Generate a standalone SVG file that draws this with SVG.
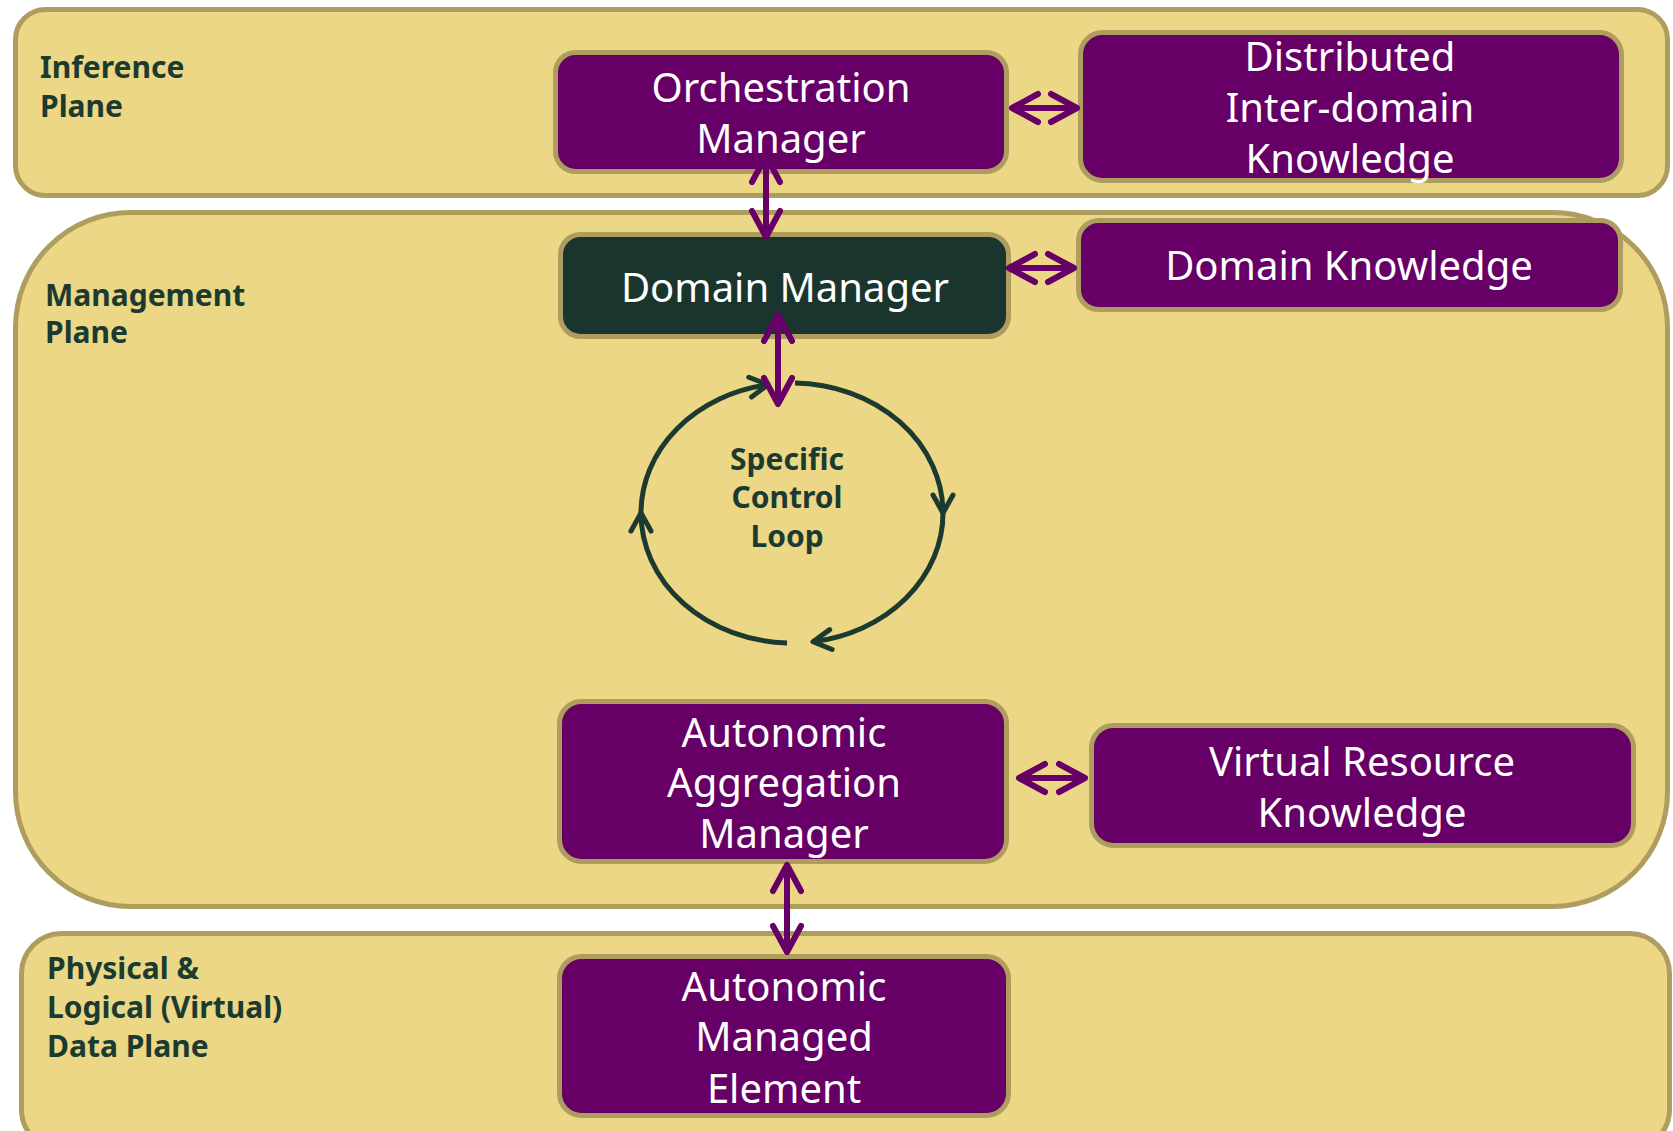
<svg xmlns="http://www.w3.org/2000/svg" width="1673" height="1131" viewBox="0 0 1673 1131">
  <defs>
    <style>
      .plane { fill: #EBD785; stroke: #AE9D5E; stroke-width: 5; }
      .box { fill: #660066; stroke: #AE9D5E; stroke-width: 5; }
      .box.dark { fill: #1A342E; }
      .boxText { font-family: "Noto Sans", "DejaVu Sans", sans-serif; font-size: 40px; fill: #FFFFFF; text-anchor: middle; }
      .planeLabel { font-family: "Noto Sans", "DejaVu Sans", sans-serif; font-size: 30px; font-weight: bold; fill: #1C3B30; }
      .loopText { font-family: "Noto Sans", "DejaVu Sans", sans-serif; font-size: 30px; font-weight: bold; fill: #1C3B30; text-anchor: middle; }
      .link { stroke: #660066; stroke-width: 6; fill: none; }
      .loop { stroke: #1C3A2F; stroke-width: 5; fill: none; }
    </style>
    <marker id="purpleHead" markerUnits="userSpaceOnUse" markerWidth="40" markerHeight="40" refX="0" refY="0" viewBox="-30 -20 40 40" orient="auto-start-reverse" overflow="visible">
      <path d="M -26 -14 L 0 0 L -26 14" fill="none" stroke="#660066" stroke-width="6" stroke-linecap="round" stroke-linejoin="round"/>
    </marker>
    <marker id="loopHead" markerUnits="userSpaceOnUse" markerWidth="30" markerHeight="30" refX="0" refY="0" viewBox="-25 -15 30 30" orient="auto" overflow="visible">
      <path d="M -18 -10 L 0 0 L -18 10" fill="none" stroke="#1C3A2F" stroke-width="5" stroke-linecap="round" stroke-linejoin="round"/>
    </marker>
  </defs>

  <rect width="1673" height="1131" fill="#FFFFFF"/>

  <!-- Planes -->
  <g id="inference-plane">
    <rect class="plane" x="15.5" y="9.5" width="1652" height="186" rx="30"/>
    <text class="planeLabel" x="40" y="78">Inference</text>
    <text class="planeLabel" x="40" y="117">Plane</text>
  </g>
  <g id="management-plane">
    <rect class="plane" x="15.5" y="212.5" width="1652" height="694" rx="115"/>
    <text class="planeLabel" x="45" y="306">Management</text>
    <text class="planeLabel" x="45" y="343">Plane</text>
  </g>
  <g id="data-plane">
    <rect class="plane" x="21.5" y="933.5" width="1648" height="216" rx="40"/>
    <text class="planeLabel" x="47" y="979">Physical &amp;</text>
    <text class="planeLabel" x="47" y="1018">Logical (Virtual)</text>
    <text class="planeLabel" x="47" y="1057">Data Plane</text>
  </g>

  <!-- Nodes -->
  <g id="orchestration-manager">
    <rect class="box" x="555.5" y="52.5" width="451" height="119" rx="20"/>
    <text class="boxText" x="781" y="102">Orchestration</text>
    <text class="boxText" x="781" y="153">Manager</text>
  </g>
  <g id="distributed-knowledge">
    <rect class="box" x="1080.5" y="32.5" width="541" height="148" rx="22"/>
    <text class="boxText" x="1350" y="71">Distributed</text>
    <text class="boxText" x="1350" y="122">Inter-domain</text>
    <text class="boxText" x="1350" y="173">Knowledge</text>
  </g>
  <g id="domain-manager">
    <rect class="box dark" x="560.5" y="234.5" width="448" height="102" rx="20"/>
    <text class="boxText" x="785" y="302">Domain Manager</text>
  </g>
  <g id="domain-knowledge">
    <rect class="box" x="1078.5" y="220.5" width="542" height="89" rx="20"/>
    <text class="boxText" x="1349" y="280">Domain Knowledge</text>
  </g>
  <g id="aggregation-manager">
    <rect class="box" x="559.5" y="701.5" width="447" height="160" rx="22"/>
    <text class="boxText" x="784" y="747">Autonomic</text>
    <text class="boxText" x="784" y="797">Aggregation</text>
    <text class="boxText" x="784" y="848">Manager</text>
  </g>
  <g id="virtual-resource-knowledge">
    <rect class="box" x="1091.5" y="725.5" width="542" height="120" rx="22"/>
    <text class="boxText" x="1362" y="776">Virtual Resource</text>
    <text class="boxText" x="1362" y="827">Knowledge</text>
  </g>
  <g id="managed-element">
    <rect class="box" x="559.5" y="956.5" width="449" height="159" rx="22"/>
    <text class="boxText" x="784" y="1001">Autonomic</text>
    <text class="boxText" x="784" y="1051">Managed</text>
    <text class="boxText" x="784" y="1103">Element</text>
  </g>

  <!-- Control loop -->
  <g id="control-loop">
    <path class="loop" d="M 795 383 A 151 130 0 0 1 943 513" marker-end="url(#loopHead)"/>
    <path class="loop" d="M 943 513 A 151 130 0 0 1 813 641.7" marker-end="url(#loopHead)"/>
    <path class="loop" d="M 787 643 A 151 130 0 0 1 641 513" marker-end="url(#loopHead)"/>
    <path class="loop" d="M 641 513 A 151 130 0 0 1 768 384.7" marker-end="url(#loopHead)"/>
    <text class="loopText" x="787" y="470">Specific</text>
    <text class="loopText" x="787" y="508">Control</text>
    <text class="loopText" x="787" y="547">Loop</text>
  </g>

  <!-- Connectors -->
  <g id="connectors">
    <line class="link" x1="766" y1="156" x2="766" y2="237" marker-start="url(#purpleHead)" marker-end="url(#purpleHead)"/>
    <line class="link" x1="778" y1="315" x2="778" y2="404" marker-start="url(#purpleHead)" marker-end="url(#purpleHead)"/>
    <line class="link" x1="1012" y1="108" x2="1077" y2="108" marker-start="url(#purpleHead)" marker-end="url(#purpleHead)"/>
    <line class="link" x1="1009" y1="268" x2="1074" y2="268" marker-start="url(#purpleHead)" marker-end="url(#purpleHead)"/>
    <line class="link" x1="1019" y1="778" x2="1085" y2="778" marker-start="url(#purpleHead)" marker-end="url(#purpleHead)"/>
    <line class="link" x1="787" y1="865" x2="787" y2="952" marker-start="url(#purpleHead)" marker-end="url(#purpleHead)"/>
  </g>
</svg>
